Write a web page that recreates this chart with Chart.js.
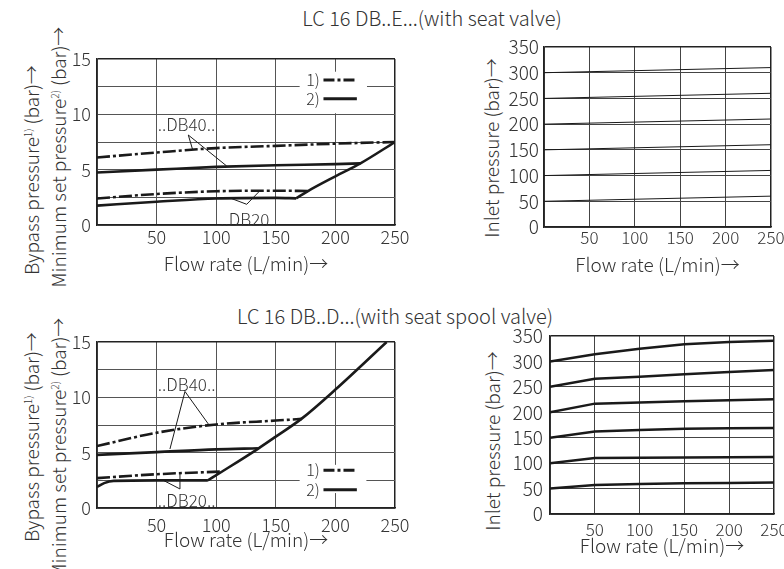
<!DOCTYPE html>
<html>
<head>
<meta charset="utf-8">
<script src="https://cdn.jsdelivr.net/npm/chart.js@4.4.1/dist/chart.umd.min.js"></script>
<style>
  body { margin: 0; background: #fff; }
  #page { position: relative; width: 784px; height: 569px; overflow: hidden;
          font-family: 'Noto Sans CJK JP', 'Noto Sans', sans-serif; font-weight: 300; color: #333; }
  .box { position: absolute; }
  .txt { position: absolute; white-space: nowrap; font-size: 20px; line-height: 1; }
  .hc { transform: translate(-50%, -50%); }
  .vert { transform: translate(-50%, -50%) rotate(-90deg); font-size: 19px; }
  sup { font-size: 10px; vertical-align: 7px; line-height: 0; }
</style>
</head>
<body>
<div id="page">
  <div class="txt hc" style="left:432px;top:18px">LC 16 DB..E...(with seat valve)</div>
  <div class="txt hc" style="left:395px;top:316px">LC 16 DB..D...(with seat spool valve)</div>

  <div class="txt vert" style="left:30px;top:170px">Bypass pressure<sup>1)</sup> (bar)→</div>
  <div class="txt vert" style="left:57px;top:157px">Minimum set pressure<sup>2)</sup> (bar)→</div>
  <div class="txt vert" style="left:30px;top:437px">Bypass pressure<sup>1)</sup> (bar)→</div>
  <div class="txt vert" style="left:57px;top:448px">Minimum set pressure<sup>2)</sup> (bar)→</div>
  <div class="txt vert" style="left:490px;top:148px">Inlet pressure (bar)→</div>
  <div class="txt vert" style="left:491px;top:441px">Inlet pressure (bar)→</div>

  <div class="box" style="left:0;top:40px"><canvas id="cE" width="420" height="250"></canvas></div>
  <div class="box" style="left:500px;top:20px"><canvas id="cEin" width="284" height="270"></canvas></div>
  <div class="box" style="left:0;top:320px"><canvas id="cD" width="420" height="249"></canvas></div>
  <div class="box" style="left:500px;top:300px"><canvas id="cDin" width="284" height="269"></canvas></div>
</div>
<script>
// LC 16 DB..E (seat valve): bypass (1) and minimum set pressure (2), bar
const eDb40BypassFlow = [0, 50, 100, 150, 200, 250];
const eDb40Bypass     = [6.1, 6.55, 6.95, 7.15, 7.35, 7.5];
const eDb40MinFlow    = [0, 50, 100, 150, 200, 221];
const eDb40Min        = [4.75, 5.0, 5.25, 5.4, 5.5, 5.57];
const eDb20BypassFlow = [0, 50, 100, 150, 177];
const eDb20Bypass     = [2.4, 2.8, 3.05, 3.1, 3.07];
const eDb20MinFlow    = [0, 50, 100, 150, 167];
const eDb20Min        = [1.75, 2.1, 2.4, 2.45, 2.41];
const eLimitFlow      = [167, 177, 200, 221, 250];
const eLimit          = [2.41, 3.07, 4.4, 5.57, 7.5];

// LC 16 DB..E inlet pressure, bar
const eInletFlow = [0, 250];
const eInlet = [
  [300, 310],
  [250, 260],
  [200, 210],
  [150, 160],
  [100, 110],
  [50, 60]
];

// LC 16 DB..D (seat spool valve)
const dDb40BypassFlow = [0, 50, 100, 150, 172];
const dDb40Bypass     = [5.6, 6.8, 7.55, 7.9, 8.05];
const dDb40MinFlow    = [0, 50, 100, 135];
const dDb40Min        = [4.8, 5.05, 5.3, 5.4];
const dDb20BypassFlow = [0, 50, 105];
const dDb20Bypass     = [2.7, 3.05, 3.3];
const dDb20MinFlow    = [0, 6, 14, 50, 93];
const dDb20Min        = [1.9, 2.25, 2.45, 2.5, 2.5];
const dLimitFlow      = [93, 105, 135, 150, 172, 200, 243];
const dLimit          = [2.5, 3.3, 5.35, 6.45, 8.1, 10.7, 15];

// LC 16 DB..D inlet pressure, bar
const dInletFlow = [0, 50, 100, 150, 200, 250];
const dInlet = [
  [300, 314, 325, 334, 338, 340.5],
  [250, 266, 270, 275, 279, 283],
  [200, 217, 219, 221.5, 223.5, 225.5],
  [150, 162, 165, 167.5, 168.5, 169],
  [100, 110, 110.5, 111, 111.5, 112],
  [50, 57, 59, 60.5, 61, 62]
];

const FAMILY = "'Noto Sans CJK JP', 'Noto Sans', sans-serif";
const INK = '#1a1a1a';
const TEXT = '#333';
const DASHDOT = [13, 3, 3, 3];

Chart.defaults.font.family = FAMILY;
Chart.defaults.font.weight = '300';
Chart.defaults.color = TEXT;
Chart.defaults.animation = false;

function pts(xs, ys) {
  return xs.map((x, i) => ({ x: x, y: ys[i] }));
}

function curve(xs, ys, dashed, width, smooth) {
  return {
    data: pts(xs, ys),
    borderColor: INK,
    borderWidth: width,
    borderDash: dashed ? DASHDOT : [],
    pointRadius: 0,
    fill: false,
    tension: 0,
    cubicInterpolationMode: smooth ? 'monotone' : 'default'
  };
}

// leader lines, DB labels and the 1)/2) key
const notesPlugin = {
  id: 'notes',
  afterDatasetsDraw(chart, args, opts) {
    const { ctx } = chart;
    const x = chart.scales.x, y = chart.scales.y;
    ctx.save();
    ctx.strokeStyle = INK;
    ctx.lineWidth = 1;
    (opts.leaders || []).forEach(l => {
      ctx.beginPath();
      l.forEach((p, i) => {
        const px = x.getPixelForValue(p[0]), py = y.getPixelForValue(p[1]);
        if (i === 0) ctx.moveTo(px, py); else ctx.lineTo(px, py);
      });
      ctx.stroke();
    });
    ctx.fillStyle = TEXT;
    ctx.font = '300 17px ' + FAMILY;
    ctx.textAlign = 'center';
    ctx.textBaseline = 'middle';
    (opts.labels || []).forEach(lb => {
      ctx.fillText(lb.text, x.getPixelForValue(lb.x), y.getPixelForValue(lb.y));
    });
    const lg = opts.legend;
    if (lg) {
      const x0 = x.getPixelForValue(lg.box[0]), y0 = y.getPixelForValue(lg.box[1]);
      const x1 = x.getPixelForValue(lg.box[2]), y1 = y.getPixelForValue(lg.box[3]);
      ctx.fillStyle = '#fff';
      ctx.fillRect(x0, y0, x1 - x0, y1 - y0);
      ctx.fillStyle = TEXT;
      ctx.font = '300 16px ' + FAMILY;
      ctx.textAlign = 'right';
      lg.rows.forEach(r => {
        const py = y.getPixelForValue(r.y);
        ctx.fillText(r.label, x.getPixelForValue(lg.textX), py);
        ctx.beginPath();
        ctx.lineWidth = 3;
        ctx.setLineDash(r.dash ? [11, 3, 3, 3] : []);
        ctx.moveTo(x.getPixelForValue(lg.lineX[0]), py);
        ctx.lineTo(x.getPixelForValue(lg.lineX[1]), py);
        ctx.stroke();
      });
      ctx.setLineDash([]);
    }
    ctx.restore();
  }
};

function makeScales(g) {
  const edge = max => c => (c.tick && c.tick.value === max) ? 1.5 : 1;
  const edgeColor = (max, col) => c => (c.tick && c.tick.value === max) ? '#222' : col;
  return {
    x: {
      type: 'linear', min: 0, max: 250,
      ticks: {
        stepSize: 50, autoSkip: false, maxRotation: 0, padding: g.xTickPad,
        font: { size: g.xTickSize }, color: TEXT,
        callback: v => v === 0 ? '' : v
      },
      grid: { color: edgeColor(250, g.grid), lineWidth: edge(250), drawTicks: false },
      border: { color: '#222', width: 1.5 },
      title: {
        display: true, text: 'Flow rate (L/min)→', color: TEXT,
        font: { size: 19 }, padding: { top: 0, bottom: g.xTitlePad }
      },
      afterFit: s => { s.height = g.xHeight; s.paddingLeft = 0; s.paddingRight = 0; }
    },
    y: {
      type: 'linear', min: 0, max: g.yMax,
      ticks: {
        stepSize: g.yStep, autoSkip: false, padding: g.yTickPad, font: { size: g.yTickSize }, color: TEXT,
        callback: v => (v % g.yLabelEvery === 0) ? v : ''
      },
      grid: { color: edgeColor(g.yMax, g.grid), lineWidth: edge(g.yMax), drawTicks: false },
      border: { color: '#222', width: 1.5 },
      afterFit: s => { s.width = g.yWidth; s.paddingTop = 0; s.paddingBottom = 0; }
    }
  };
}

function makeChart(id, datasets, g, notes) {
  return new Chart(document.getElementById(id), {
    type: 'line',
    data: { datasets: datasets },
    options: {
      responsive: false,
      layout: { padding: { top: g.padTop, right: g.padRight, left: 0, bottom: 0 } },
      plugins: { legend: { display: false }, tooltip: { enabled: false }, title: { display: false }, notes: notes || {} },
      scales: makeScales(g)
    },
    plugins: [notesPlugin]
  });
}

// top left: seat valve
makeChart('cE', [
  curve(eDb40BypassFlow, eDb40Bypass, true, 2.6, true),
  curve(eDb40MinFlow, eDb40Min, false, 2.6, true),
  curve(eDb20BypassFlow, eDb20Bypass, true, 2.6, true),
  curve(eDb20MinFlow, eDb20Min, false, 2.6, true),
  curve(eLimitFlow, eLimit, false, 2.6, true)
], {
  padTop: 19, padRight: 25, yWidth: 97, xHeight: 65,
  xTickPad: 1, xTickSize: 18, xTitlePad: 15, yTickPad: 6, yTickSize: 18,
  yMax: 15, yStep: 2.5, yLabelEvery: 5, grid: '#555'
}, {
  labels: [{ text: '..DB40..', x: 75, y: 9.05 }, { text: '..DB20..', x: 127.6, y: 0.5 }],
  leaders: [
    [[80.3, 6.78], [76.6, 8.13], [108.8, 5.33]],
    [[111.6, 2.44], [125.6, 1.87], [136.7, 3.1]]
  ],
  legend: {
    box: [170, 13.85, 226.5, 10.1], textX: 187, lineX: [190, 218],
    rows: [{ label: '1)', y: 13.1, dash: true }, { label: '2)', y: 11.4, dash: false }]
  }
});

// top right: seat valve inlet pressure
makeChart('cEin', eInlet.map(s => curve(eInletFlow, s, false, 1, false)), {
  padTop: 27, padRight: 13, yWidth: 44, xHeight: 63,
  xTickPad: 0, xTickSize: 17, xTitlePad: 14, yTickPad: 5, yTickSize: 19,
  yMax: 350, yStep: 50, yLabelEvery: 50, grid: '#444'
});

// bottom left: seat spool valve
makeChart('cD', [
  curve(dDb40BypassFlow, dDb40Bypass, true, 2.6, true),
  curve(dDb40MinFlow, dDb40Min, false, 2.6, true),
  curve(dDb20BypassFlow, dDb20Bypass, true, 2.6, true),
  curve(dDb20MinFlow, dDb20Min, false, 2.6, true),
  curve(dLimitFlow, dLimit, false, 2.6, true)
], {
  padTop: 22, padRight: 25, yWidth: 97, xHeight: 61,
  xTickPad: 6, xTickSize: 18, xTitlePad: 18, yTickPad: 6, yTickSize: 18,
  yMax: 15, yStep: 2.5, yLabelEvery: 5, grid: '#555'
}, {
  labels: [{ text: '..DB40..', x: 75.2, y: 11.2 }, { text: '..DB20..', x: 75.2, y: 0.66 }],
  leaders: [
    [[93.4, 7.59], [73.8, 10.53], [61.2, 5.33]],
    [[55.6, 2.5], [69.6, 1.72], [69.6, 3.16]]
  ],
  legend: {
    box: [170, 3.9, 226, 1.35], textX: 187, lineX: [190, 218],
    rows: [{ label: '1)', y: 3.4, dash: true }, { label: '2)', y: 1.65, dash: false }]
  }
});

// bottom right: seat spool valve inlet pressure
makeChart('cDin', dInlet.map(s => curve(dInletFlow, s, false, 2.5, false)), {
  padTop: 36, padRight: 10, yWidth: 50, xHeight: 55,
  xTickPad: 5, xTickSize: 17, xTitlePad: 12, yTickPad: 7, yTickSize: 19,
  yMax: 350, yStep: 50, yLabelEvery: 50, grid: '#444'
});
</script>
</body>
</html>
